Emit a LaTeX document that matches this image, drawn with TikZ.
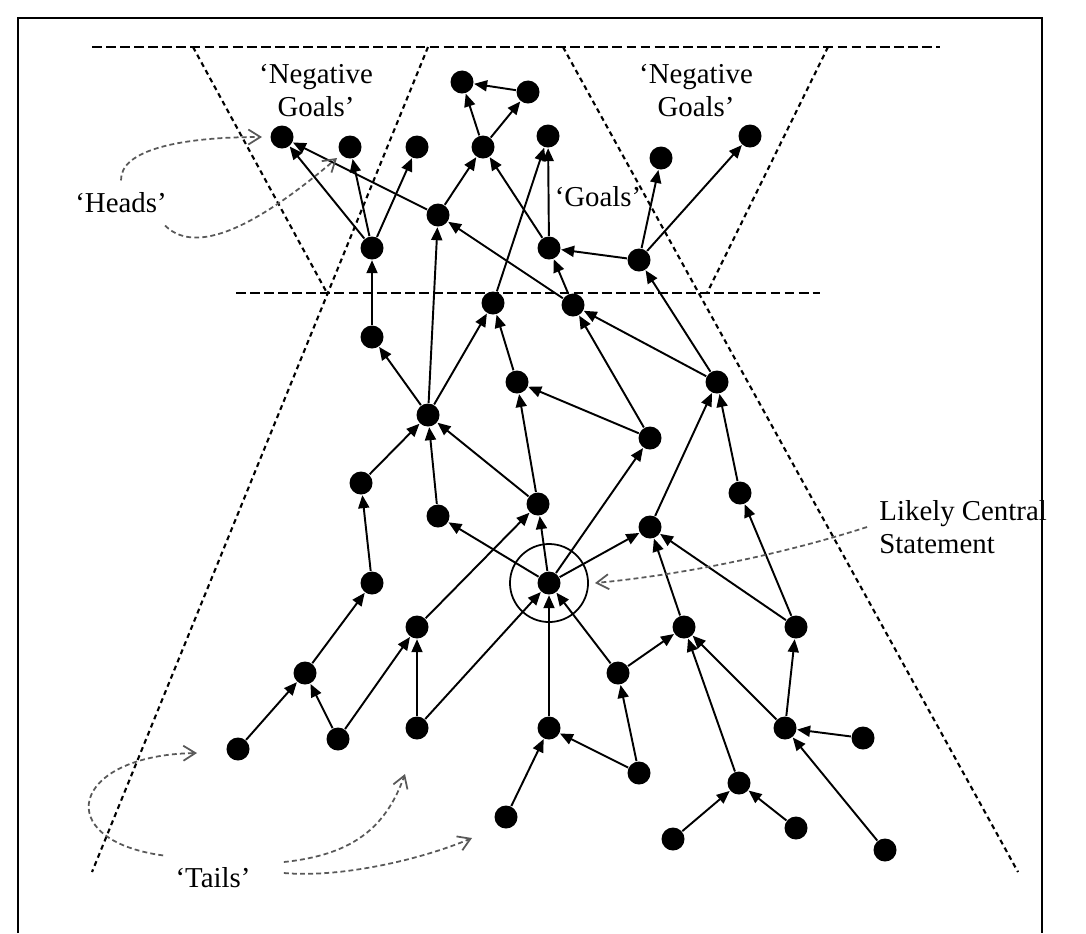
\documentclass[tikz,border=0pt]{standalone}
\usepackage{fontspec}
\setmainfont{Liberation Serif}
\usetikzlibrary{arrows.meta}

\begin{document}
\begin{tikzpicture}[x=0.01cm, y=-0.01cm,
        stmt/.style = {circle, fill=black, inner sep=0pt, minimum size=0.23cm},
        link/.style = {line width=0.55pt, -{Triangle[length=0.13cm, width=0.11cm]}},
        rim/.style = {dash pattern=on 2.8pt off 1.2pt, line width=0.7pt},
        slope/.style = {dash pattern=on 1.4pt off 1.1pt, line width=0.6pt},
        hint/.style = {black!65, dash pattern=on 1.4pt off 0.9pt, line width=0.5pt,
            -{Straight Barb[length=0.12cm, width=0.15cm]}},
        tag/.style = {font=\fontsize{8.2}{9.4}\selectfont, align=center}]
    \useasboundingbox (0, 0) rectangle (1086, 933);
    \draw [line width=0.5pt] (18, 933) -- (18, 18) -- (1042, 18) -- (1042, 933);

    % regions
    \draw [rim] (92, 47) -- (940, 47);
    \draw [rim] (236, 293) -- (820, 293);
    \draw [slope] (193, 47) -- (327, 293);
    \draw [slope] (428, 47) -- (92, 872);
    \draw [slope] (563, 47) -- (1018, 872);
    \draw [slope] (828, 47) -- (707, 293);

    % statements
    \node [stmt] (ga) at (282, 137) {};
    \node [stmt] (gb) at (350, 147) {};
    \node [stmt] (gc) at (417, 147) {};
    \node [stmt] (gd) at (462, 82) {};
    \node [stmt] (ge) at (528, 92) {};
    \node [stmt] (gf) at (483, 147) {};
    \node [stmt] (gg) at (548, 136) {};
    \node [stmt] (gh) at (661, 158) {};
    \node [stmt] (gi) at (750, 136) {};
    \node [stmt] (ma) at (438, 215) {};
    \node [stmt] (mb) at (372, 248) {};
    \node [stmt] (mc) at (549, 248) {};
    \node [stmt] (md) at (639, 260) {};
    \node [stmt] (me) at (493, 303) {};
    \node [stmt] (mf) at (573, 305) {};
    \node [stmt] (s1) at (372, 337) {};
    \node [stmt] (s2) at (517, 382) {};
    \node [stmt] (s3) at (428, 415) {};
    \node [stmt] (s4) at (717, 382) {};
    \node [stmt] (s5) at (650, 438) {};
    \node [stmt] (s6) at (361, 483) {};
    \node [stmt] (s7) at (438, 516) {};
    \node [stmt] (s8) at (538, 504) {};
    \node [stmt] (s9) at (740, 493) {};
    \node [stmt] (s10) at (650, 527) {};
    \node [stmt] (core) at (549, 583) {};
    \node [stmt] (s11) at (372, 583) {};
    \node [stmt] (s12) at (305, 673) {};
    \node [stmt] (s13) at (417, 627) {};
    \node [stmt] (s14) at (684, 627) {};
    \node [stmt] (s15) at (796, 627) {};
    \node [stmt] (s16) at (618, 673) {};
    \node [stmt] (t1) at (238, 749) {};
    \node [stmt] (t2) at (338, 739) {};
    \node [stmt] (t3) at (417, 728) {};
    \node [stmt] (t4) at (549, 728) {};
    \node [stmt] (t5) at (639, 773) {};
    \node [stmt] (t6) at (785, 728) {};
    \node [stmt] (t7) at (863, 738) {};
    \node [stmt] (t8) at (739, 783) {};
    \node [stmt] (t9) at (506, 817) {};
    \node [stmt] (t10) at (673, 839) {};
    \node [stmt] (t11) at (796, 828) {};
    \node [stmt] (t12) at (885, 850) {};
    \node [draw, circle, line width=0.5pt, minimum size=0.78cm] (ring) at (core) {};

    % links
    \draw [link] (ge) -- (gd);
    \draw [link] (gf) -- (gd);
    \draw [link] (gf) -- (ge);
    \draw [link] (ma) -- (gf);
    \draw [link] (mc) -- (gf);
    \draw [link] (mb) -- (ga);
    \draw [link] (mb) -- (gb);
    \draw [link] (mb) -- (gc);
    \draw [link] (ma) -- (ga);
    \draw [link] (mc) -- (gg);
    \draw [link] (me) -- (gg);
    \draw [link] (md) -- (mc);
    \draw [link] (md) -- (gh);
    \draw [link] (md) -- (gi);
    \draw [link] (mf) -- (ma);
    \draw [link] (mf) -- (mc);
    \draw [link] (s1) -- (mb);
    \draw [link] (s3) -- (ma);
    \draw [link] (s3) -- (me);
    \draw [link] (s3) -- (s1);
    \draw [link] (s2) -- (me);
    \draw [link] (s4) -- (md);
    \draw [link] (s4) -- (mf);
    \draw [link] (s5) -- (mf);
    \draw [link] (s5) -- (s2);
    \draw [link] (s8) -- (s2);
    \draw [link] (s6) -- (s3);
    \draw [link] (s7) -- (s3);
    \draw [link] (s8) -- (s3);
    \draw [link] (s11) -- (s6);
    \draw [link] (s9) -- (s4);
    \draw [link] (s10) -- (s4);
    \draw [link] (core) -- (s7);
    \draw [link] (core) -- (s8);
    \draw [link] (core) -- (s5);
    \draw [link] (core) -- (s10);
    \draw [link] (s13) -- (s8);
    \draw [link] (s12) -- (s11);
    \draw [link] (s14) -- (s10);
    \draw [link] (s15) -- (s10);
    \draw [link] (s15) -- (s9);
    \draw [link] (s16) -- (core);
    \draw [link] (s16) -- (s14);
    \draw [link] (t1) -- (s12);
    \draw [link] (t2) -- (s12);
    \draw [link] (t2) -- (s13);
    \draw [link] (t3) -- (s13);
    \draw [link] (t3) -- (core);
    \draw [link] (t4) -- (core);
    \draw [link] (t5) -- (s16);
    \draw [link] (t5) -- (t4);
    \draw [link] (t9) -- (t4);
    \draw [link] (t6) -- (s14);
    \draw [link] (t6) -- (s15);
    \draw [link] (t8) -- (s14);
    \draw [link] (t7) -- (t6);
    \draw [link] (t12) -- (t6);
    \draw [link] (t10) -- (t8);
    \draw [link] (t11) -- (t8);

    % labels
    \node [tag] (negleft) at (316, 91) {‘Negative\\Goals’};
    \node [tag] (negright) at (696, 91) {‘Negative\\Goals’};
    \node [tag] (goals) at (598, 197) {‘Goals’};
    \node [tag] (heads) at (121, 203) {‘Heads’};
    \node [tag] (tails) at (213, 878) {‘Tails’};
    \node [tag, align=left, anchor=west] (central) at (867, 527) {Likely Central\\Statement};

    \coordinate (headtipa) at (262, 137);
    \coordinate (headtipb) at (337, 158);
    \coordinate (tailtipa) at (197, 753);
    \coordinate (tailtipb) at (405, 774);
    \coordinate (tailtipc) at (472, 838);
    \coordinate (coretip) at (595, 583);
    \draw [hint] (heads.north) .. controls (120, 150) and (180, 137) .. (headtipa);
    \draw [hint] ([xshift=-0.14cm]heads.south east) .. controls (200, 260) and (270, 215) .. (headtipb);
    \draw [hint] (tails.north west) .. controls (50, 840) and (70, 755) .. (tailtipa);
    \draw [hint] ([xshift=0.21cm, yshift=0.16cm]tails.east) .. controls (350, 855) and (385, 830) .. (tailtipb);
    \draw [hint] ([xshift=0.21cm, yshift=0.05cm]tails.east) .. controls (340, 878) and (420, 860) .. (tailtipc);
    \draw [hint] (central.west) .. controls (780, 555) and (680, 575) .. (coretip);
\end{tikzpicture}
\end{document}
